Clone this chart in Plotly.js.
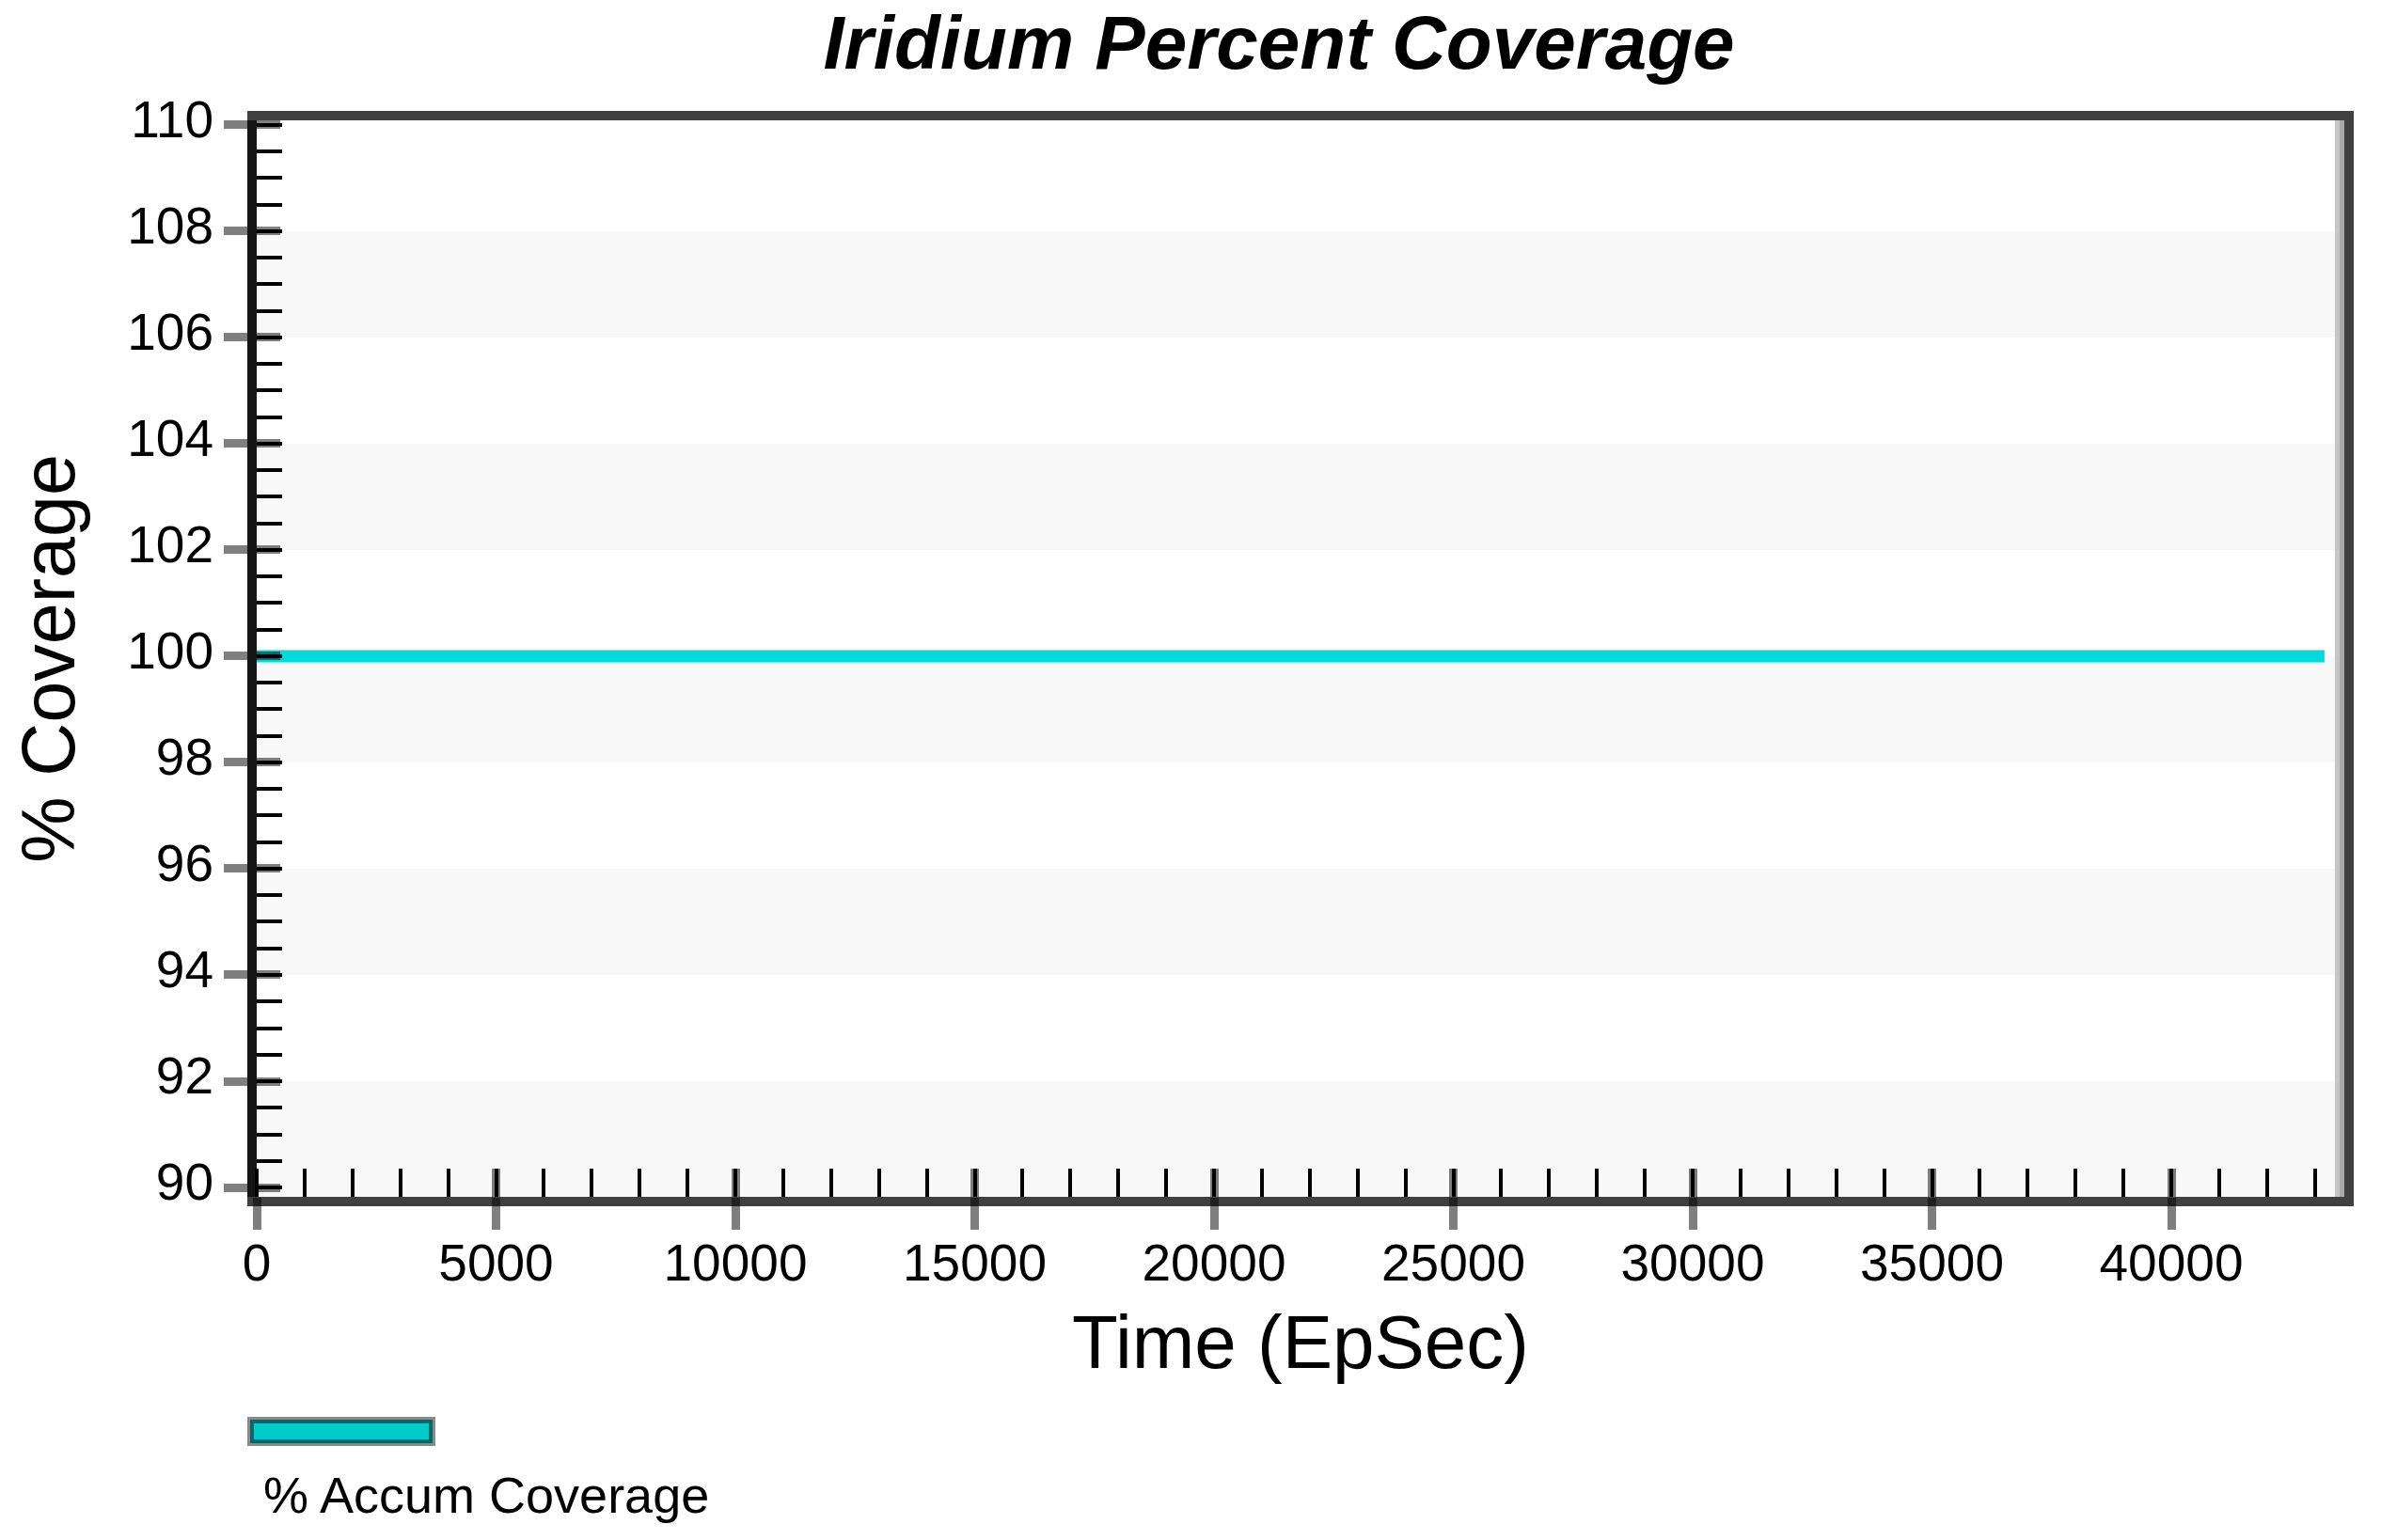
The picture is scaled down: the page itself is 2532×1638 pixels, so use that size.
<!DOCTYPE html>
<html><head><meta charset="utf-8">
<script src="https://cdn.plot.ly/plotly-3.0.1.min.js"></script>
<style>html,body{margin:0;padding:0;background:#fff}#chart{width:2532px;height:1638px}</style>
</head><body><div id="chart"></div>
<script>
// ---- data ----
const timeSec = [0, 43200];
const accumCoverage = [100, 100];
const seriesName = '% Accum Coverage';
const chartTitle = 'Iridium Percent Coverage';
const xTitle = 'Time (EpSec)';
const yTitle = '% Coverage';
const xRange = [0, 43615];
const yRange = [89.823, 110.088];
const bandLow = [yRange[0], 94, 98, 102, 106];
const bandHigh = [92, 96, 100, 104, 108];

// ---- layout helpers ----
const W = 2532, H = 1638;
const plotL = 273, plotR = 2493, plotT = 128, plotB = 1273;
const px = v => (v - plotL) / (plotR - plotL);
const py = v => (plotB - v) / (plotB - plotT);
const FONT = 'Liberation Sans, Arial, Helvetica, sans-serif';
const tickGray = 'rgba(0,0,0,0.5)';

const traces = [
  {type: 'scatter', mode: 'lines', x: timeSec, y: accumCoverage, name: seriesName,
   line: {color: '#00dada', width: 13}, showlegend: false, hoverinfo: 'skip'},
  {type: 'scatter', mode: 'lines', x: [], y: [], xaxis: 'x2', yaxis: 'y', showlegend: false, hoverinfo: 'skip'},
  {type: 'scatter', mode: 'lines', x: [], y: [], xaxis: 'x3', yaxis: 'y', showlegend: false, hoverinfo: 'skip'},
  {type: 'scatter', mode: 'lines', x: [], y: [], xaxis: 'x4', yaxis: 'y', showlegend: false, hoverinfo: 'skip'},
  {type: 'scatter', mode: 'lines', x: [], y: [], xaxis: 'x', yaxis: 'y2', showlegend: false, hoverinfo: 'skip'},
  {type: 'scatter', mode: 'lines', x: [], y: [], xaxis: 'x', yaxis: 'y3', showlegend: false, hoverinfo: 'skip'},
  {type: 'scatter', mode: 'lines', x: [], y: [], xaxis: 'x', yaxis: 'y4', showlegend: false, hoverinfo: 'skip'}
];

const overlayBase = {showgrid: false, zeroline: false, showticklabels: false, showline: false, fixedrange: true};
const xOver = {overlaying: 'x', anchor: 'y', side: 'bottom', range: xRange, tick0: 0, dtick: 5000};
const yOver = {overlaying: 'y', anchor: 'x', side: 'left', range: yRange, tick0: 90, dtick: 2};

const shapes = [];
for (let i = 0; i < bandLow.length; i++) {
  shapes.push({type: 'rect', layer: 'below', xref: 'paper', yref: 'y', x0: 0, x1: px(2483),
    y0: bandLow[i], y1: bandHigh[i], fillcolor: '#f8f8f8', line: {width: 0}});
}
shapes.push({type: 'rect', layer: 'below', xref: 'paper', yref: 'paper', x0: px(2483), x1: px(2488), y0: 0, y1: 1,
  fillcolor: '#c6c6c6', line: {width: 0}});
shapes.push({type: 'rect', layer: 'below', xref: 'paper', yref: 'paper', x0: px(2488), x1: 1, y0: 0, y1: 1,
  fillcolor: '#a9a9a9', line: {width: 0}});
// legend swatch
shapes.push({type: 'rect', xref: 'paper', yref: 'paper', x0: px(263), x1: px(463), y0: py(1538), y1: py(1507),
  fillcolor: '#8a8a8a', line: {width: 0}});
shapes.push({type: 'rect', xref: 'paper', yref: 'paper', x0: px(266), x1: px(460), y0: py(1535), y1: py(1510),
  fillcolor: '#006868', line: {width: 0}});
shapes.push({type: 'rect', xref: 'paper', yref: 'paper', x0: px(270), x1: px(456), y0: py(1531), y1: py(1514),
  fillcolor: '#00cccc', line: {width: 0}});

const layout = {
  width: W, height: H,
  margin: {l: plotL, r: W - plotR, t: plotT, b: H - plotB, pad: 0},
  paper_bgcolor: '#ffffff', plot_bgcolor: '#ffffff',
  font: {family: FONT, color: '#000000'},
  showlegend: false,
  title: {text: chartTitle, font: {family: FONT, size: 80, weight: 'bold', style: 'italic', color: '#000'},
    x: 1360 / W, xanchor: 'center', y: 1 - 45 / H, yanchor: 'middle'},
  xaxis: {range: xRange, tick0: 0, dtick: 5000, tickformat: 'd', ticks: 'outside', ticklen: 13, tickwidth: 9,
    tickcolor: 'rgba(0,0,0,0)',
    showline: true, linecolor: '#404040', linewidth: 10, mirror: true, showgrid: false, zeroline: false,
    tickfont: {size: 55, family: FONT, color: '#000'},
    minor: {tick0: 0, dtick: 1000, ticks: 'inside', ticklen: 30, tickwidth: 4, tickcolor: '#000', showgrid: false},
    title: {text: xTitle, font: {size: 80, family: FONT, color: '#000'}, standoff: 30}, fixedrange: true},
  yaxis: {range: yRange, tick0: 90, dtick: 2, ticks: 'outside', ticklen: 25, tickwidth: 9, tickcolor: tickGray,
    showline: true, linecolor: '#141414', linewidth: 10, mirror: false, showgrid: false, zeroline: false,
    tickfont: {size: 55, family: FONT, color: '#000'}, ticklabelshift: -6,
    minor: {tick0: 90, dtick: 0.5, ticks: 'inside', ticklen: 27, tickwidth: 4, tickcolor: '#000', showgrid: false},
    title: {text: yTitle, font: {size: 79, family: FONT, color: '#000'}, standoff: 34}, fixedrange: true},
  xaxis2: Object.assign({}, overlayBase, xOver, {ticks: 'inside', ticklen: 30, tickwidth: 4, tickcolor: '#000'}),
  xaxis3: Object.assign({}, overlayBase, xOver, {ticks: 'inside', ticklen: 30, tickwidth: 9, tickcolor: tickGray}),
  xaxis4: Object.assign({}, overlayBase, xOver, {ticks: 'outside', ticklen: 34, tickwidth: 9, tickcolor: tickGray}),
  yaxis2: Object.assign({}, overlayBase, yOver, {ticks: 'inside', ticklen: 27, tickwidth: 4, tickcolor: '#000'}),
  yaxis3: Object.assign({}, overlayBase, yOver, {ticks: 'inside', ticklen: 25, tickwidth: 9, tickcolor: tickGray}),
  yaxis4: Object.assign({}, overlayBase, {overlaying: 'y', anchor: 'x', side: 'right', range: yRange,
    ticks: '', showline: true, linecolor: '#404040', linewidth: 10}),
  shapes: shapes,
  annotations: [
    {xref: 'paper', yref: 'paper', x: px(278), y: py(1590), xanchor: 'left', yanchor: 'middle',
     text: seriesName, showarrow: false, font: {size: 54, family: FONT, color: '#000'}}
  ]
};

Plotly.newPlot('chart', traces, layout, {displayModeBar: false, staticPlot: true});
</script>
</body></html>
